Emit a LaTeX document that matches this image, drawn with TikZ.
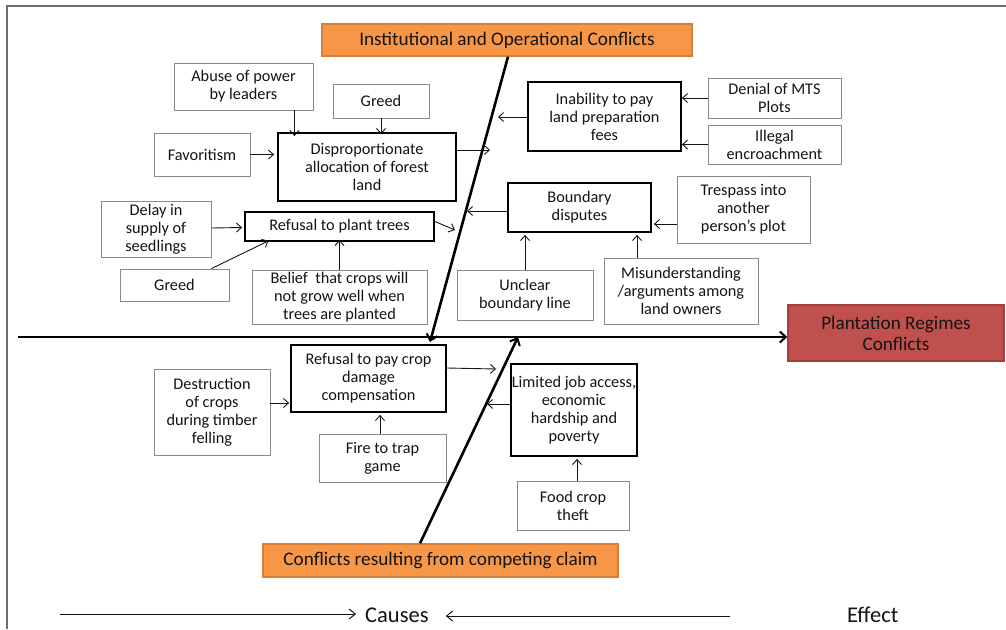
\documentclass[tikz,border=0pt]{standalone}
\usepackage{fontspec}
\setmainfont{Carlito}
\usetikzlibrary{arrows.meta,calc}
\definecolor{orangefill}{HTML}{F79646}
\definecolor{orangeline}{HTML}{DB7E35}
\definecolor{redfill}{HTML}{C0504D}
\definecolor{redline}{HTML}{A33F3C}
\definecolor{thinline}{HTML}{8A8A8A}
\definecolor{ink}{HTML}{141414}
\begin{document}
\begin{tikzpicture}[x=1pt,y=-1pt,
  font=\fontsize{16.3}{18}\selectfont,
  box/.style={draw=thinline,line width=0.9pt,fill=white,text=ink,align=center,inner sep=1pt},
  keybox/.style={draw=black,line width=1.8pt,fill=white,text=ink,align=center,inner sep=1pt},
  headbox/.style={draw=orangeline,line width=1.4pt,fill=orangefill,text=ink,align=center,
                  font=\fontsize{19.2}{21}\selectfont},
  effectbox/.style={draw=redline,line width=1.4pt,fill=redfill,text=ink,align=center,
                  font=\fontsize{19.2}{21}\selectfont},
  link/.style={draw=ink,line width=0.9pt,-{Straight Barb[length=5pt,width=9pt]}},
  bone/.style={draw=black,line width=2.6pt,-{Straight Barb[length=6pt,width=11pt,line width=2pt]}},
  spine/.style={draw=black,line width=2.2pt,-{Straight Barb[length=6pt,width=11pt,line width=2pt]}},
  legend/.style={draw=ink,line width=1pt,-{Straight Barb[length=6pt,width=10pt]}},
  legendtext/.style={text=ink,font=\fontsize{22.5}{24}\selectfont,anchor=west,inner sep=0pt}]

% page area and frame
\useasboundingbox (0,0) rectangle (1006,629);
\draw[draw=thinline!80!black,line width=1.2pt] (7,629) -- (7,6) -- (1006,6);

% category heads and effect
\node[headbox,minimum width=370,minimum height=32] (top) at (507,40) {Institutional and Operational Conflicts};
\node[headbox,minimum width=355,minimum height=33] (bot) at (440.5,560.5) {Conflicts resulting from competing claim};
\node[effectbox,minimum width=216,minimum height=56] (effect) at (896,333) {Plantation Regimes\\Conflicts};

% spine and bones
\coordinate (spineL) at (18,337);
\coordinate (ubend) at (430,342);
\coordinate (lbend) at (518,337);
\draw[spine] (spineL) -- (spineL -| effect.west);
\draw[bone] (top.south -| 508,0) -- (ubend);
\draw[bone] (bot.north -| 420,0) -- (lbend);

% upper-left causes
\node[box,minimum width=139,minimum height=47] (abuse) at (243.5,86.5) {Abuse of power\\by leaders};
\node[box,minimum width=96,minimum height=34] (greedA) at (381,101) {Greed};
\node[box,minimum width=96,minimum height=43] (favor) at (202,154.5) {Favoritism};
\node[keybox,minimum width=178,minimum height=68] (dispro) at (367,167) {Disproportionate\\allocation of forest\\land};
\node[box,minimum width=110,minimum height=56] (delay) at (156,229) {Delay in\\supply of\\seedlings};
\node[keybox,minimum width=189,minimum height=29] (refplant) at (339.5,226.5) {Refusal to plant trees};
\node[box,minimum width=109,minimum height=32] (greedB) at (174.5,285) {Greed};
\node[box,minimum width=175,minimum height=54] (belief) at (339.5,297) {Belief\ \ that crops will\\not grow well when\\trees are planted};

% upper-right causes
\node[keybox,minimum width=153,minimum height=69] (inab) at (604.5,116.5) {Inability to pay\\land preparation\\fees};
\node[box,minimum width=133,minimum height=40] (denial) at (774.5,98) {Denial of MTS\\Plots};
\node[box,minimum width=133,minimum height=39] (illegal) at (774.5,144.5) {Illegal\\encroachment};
\node[keybox,minimum width=143,minimum height=49] (bound) at (579.5,207.5) {Boundary\\disputes};
\node[box,minimum width=133,minimum height=67] (tresp) at (743.5,209.5) {Trespass into\\another\\person’s plot};
\node[box,minimum width=136,minimum height=50] (unclear) at (525,295) {Unclear\\boundary line};
\node[box,minimum width=154,minimum height=66] (misund) at (681,291) {Misunderstanding\\/arguments among\\land owners};

% lower-left causes
\node[keybox,minimum width=155,minimum height=67] (refpay) at (368.5,378.5) {Refusal to pay crop\\damage\\compensation};
\node[box,minimum width=116,minimum height=86] (destr) at (212,412) {Destruction\\of crops\\during timber\\felling};
\node[box,minimum width=127,minimum height=48] (fire) at (382.5,458) {Fire to trap\\game};

% lower-right causes
\node[keybox,minimum width=124,minimum height=92] (limited) at (574,410) {Limited job access,\\economic\\hardship and\\poverty};
\node[box,minimum width=112,minimum height=49] (food) at (573,505.5) {Food crop\\theft};

% free ends of links meeting the bones
\coordinate (dAt) at (490,150);
\coordinate (iAt) at (498,117);
\coordinate (rAt) at (455,230);
\coordinate (bAt) at (467,211);
\coordinate (pAt) at (496,369);
\coordinate (lAt) at (487,404);

% links, upper-left
\draw[link] ([xshift=-19pt]abuse.south east) -- ([xshift=-19pt,yshift=-4pt]abuse.south east |- dispro.north);
\draw[link] (greedA.south) -- ([yshift=-2pt]greedA.south |- dispro.north);
\draw[link] (favor.east) -- ([xshift=-3pt]favor.east -| dispro.west);
\draw[link] (dispro.east |- dAt) -- (dAt);
\draw[link] ([yshift=1pt]delay.east) -- ([xshift=-2pt,yshift=-1pt]refplant.west);
\draw[link] ([xshift=37pt]greedB.north) -- ([xshift=-71pt,yshift=1pt]refplant.south);
\draw[link] (belief.north) -- ([yshift=2pt]belief.north |- refplant.south);
\draw[link] ([yshift=5pt]refplant.east) -- (rAt);

% links, upper-right
\draw[link] (denial.west) -- (denial.west -| inab.east);
\draw[link] (illegal.west) -- (illegal.west -| inab.east);
\draw[link] (inab.west |- iAt) -- (iAt);
\draw[link] (tresp.west |- 0,224) -- ([xshift=2pt]bound.east |- 0,224);
\draw[link] (bound.west |- bAt) -- (bAt);
\draw[link] (unclear.north) -- ([yshift=-2pt]unclear.north |- bound.south);
\draw[link] (misund.north -| 637,0) -- ([yshift=-2pt]bound.south -| 637,0);

% links, lower side
\draw[link] (destr.east |- 0,403) -- ([xshift=-1pt]refpay.west |- 0,403);
\draw[link] (fire.north -| 380,0) -- ([yshift=-2pt]refpay.south -| 380,0);
\draw[link] (refpay.east |- 0,368) -- (pAt);
\draw[link] (food.north -| 577,0) -- ([yshift=-2pt]limited.south -| 577,0);
\draw[link] (limited.west |- lAt) -- (lAt);

% legend
\node[legendtext] (causes) at (365,615) {Causes};
\node[legendtext] (effectlbl) at (847,615) {Effect};
\coordinate (legA) at (60,614);
\coordinate (legB) at (730,616);
\draw[legend] (legA) -- ([xshift=-9pt]causes.west |- legA);
\draw[legend] (legB) -- ([xshift=17pt]causes.east |- legB);
\end{tikzpicture}
\end{document}
